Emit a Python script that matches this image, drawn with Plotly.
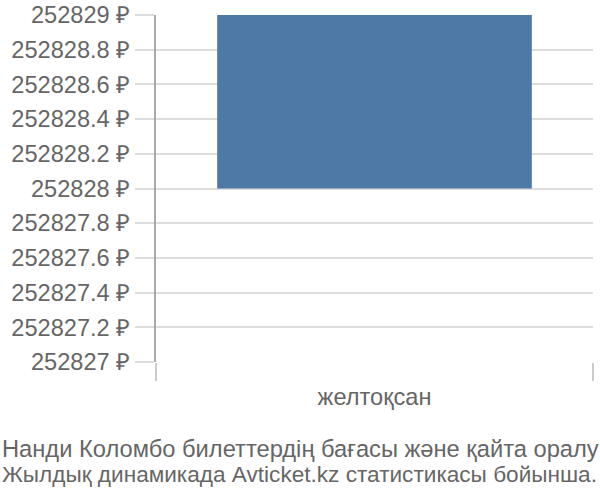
import plotly.graph_objects as go

# data
months = ["желтоқсан"]
price_low = [252828]
price_high = [252829]
tick_values = [252827, 252827.2, 252827.4, 252827.6, 252827.8, 252828,
               252828.2, 252828.4, 252828.6, 252828.8, 252829]
tick_labels = ["252827 ₽", "252827.2 ₽", "252827.4 ₽", "252827.6 ₽", "252827.8 ₽",
               "252828 ₽", "252828.2 ₽", "252828.4 ₽", "252828.6 ₽", "252828.8 ₽",
               "252829 ₽"]
title_lines = ["Нанди Коломбо билеттердің бағасы және қайта оралу",
               "Жылдық динамикада Avticket.kz статистикасы бойынша."]

FONT = "Liberation Sans, Arial, sans-serif"
GREY = "#666666"
TICK_SIZE = 23.6

fig = go.Figure()
fig.add_trace(go.Bar(
    x=months,
    y=[h - l for h, l in zip(price_high, price_low)],
    base=price_low,
    marker=dict(color="#4e79a7", line=dict(width=0)),
    width=0.72,
    hoverinfo="skip",
))

# caption under the chart, one annotation per line (left aligned at the page edge)
for line, top, size in zip(title_lines, [434, 460], [23.7, 22.6]):
    fig.add_annotation(
        text=line,
        xref="paper", yref="paper",
        x=-156 / 437, y=-(top - 362) / 347,
        xanchor="left", yanchor="top", align="left",
        showarrow=False,
        font=dict(family=FONT, size=size, color=GREY),
    )

fig.update_layout(
    width=600, height=500,
    margin=dict(l=156, r=7, t=15, b=138, autoexpand=False),
    paper_bgcolor="white", plot_bgcolor="white",
    showlegend=False,
    font=dict(family=FONT, size=TICK_SIZE, color=GREY),
    xaxis=dict(
        type="category", automargin=False,
        showgrid=False, zeroline=False, showline=False,
        ticks="outside", tickson="boundaries", ticklen=18,
        tickcolor="#cccccc", tickwidth=2,
        ticklabelstandoff=18,
        tickfont=dict(size=TICK_SIZE, color=GREY),
    ),
    yaxis=dict(
        range=[252827, 252829], automargin=False,
        tickmode="array", tickvals=tick_values, ticktext=tick_labels,
        showgrid=True, gridcolor="#dddddd", gridwidth=1.5,
        zeroline=False,
        showline=True, linecolor="#aaaaaa", linewidth=2,
        ticks="outside", ticklen=19, tickcolor="#dddddd", tickwidth=1.5,
        tickfont=dict(size=TICK_SIZE, color=GREY),
    ),
)

# the page body has a default 8px margin; drop it so the figure sits at 0,0
fig.write_html("out.html", config={"displayModeBar": False},
               post_script="document.body.style.margin='0';")
